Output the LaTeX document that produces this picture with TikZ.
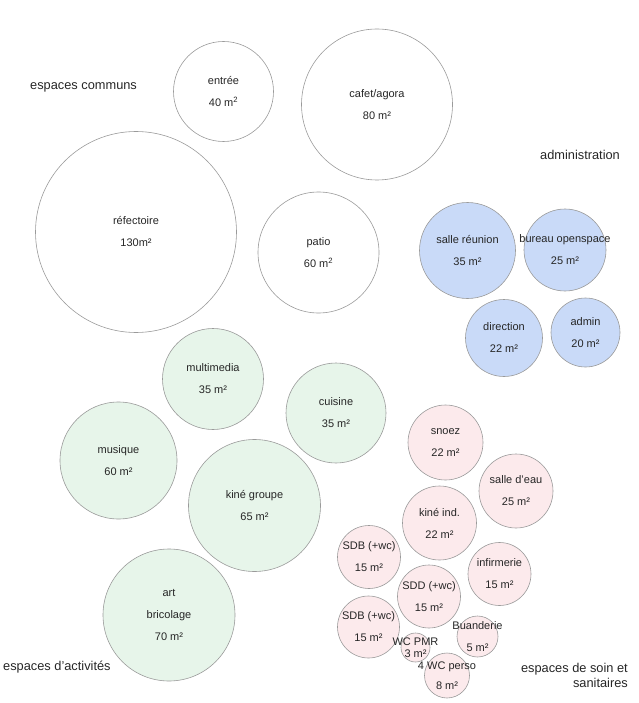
\documentclass[tikz,border=0pt]{standalone}
\usepackage{fontspec}
\setmainfont{Liberation Sans}

\definecolor{bleuadm}{HTML}{C9DAF8}
\definecolor{vertact}{HTML}{E7F5EA}
\definecolor{rosesoin}{HTML}{FCEAEC}
\definecolor{trait}{HTML}{9A9A9A}

\tikzset{
    salle/.style={circle, draw=trait, line width=0.6pt, inner sep=0pt},
    every label/.style={align=center, inner sep=0pt, text=black!85,
        font=\fontsize{11}{22}\selectfont},
    groupe/.style={inner sep=0pt, text=black!85,
        font=\fontsize{12.8}{15.5}\selectfont}
}

\begin{document}
\begin{tikzpicture}[x=1pt, y=-1pt]
    \useasboundingbox (0,0) rectangle (638,703);

    % Espaces communs
    \node[groupe, anchor=west] (communs) at (30,87) {espaces communs};
    \node[salle, minimum size=100pt, label={center:entrée\\40 m\textsuperscript{2}}] (entree) at (223.5,91.5) {};
    \node[salle, minimum size=151pt, label={center:cafet/agora\\80 m²}] (cafet) at (377,104.5) {};
    \node[salle, minimum size=201pt, label={center:réfectoire\\130m²}] (refectoire) at (136,232) {};
    \node[salle, minimum size=121pt, label={center:patio\\60 m\textsuperscript{2}}] (patio) at (318.5,252.5) {};

    % Administration
    \node[groupe] (administration) at (580,155) {administration};
    \node[salle, fill=bleuadm, minimum size=96pt, label={center:salle réunion\\35 m²}] (reunion) at (467.5,250.5) {};
    \node[salle, fill=bleuadm, minimum size=82pt, label={center:bureau openspace\\25 m²}] (openspace) at (565,250) {};
    \node[salle, fill=bleuadm, minimum size=77pt, label={center:direction\\22 m²}] (direction) at (504,338) {};
    \node[salle, fill=bleuadm, minimum size=69pt, label={center:admin\\20 m²}] (admin) at (585.5,332.5) {};

    % Espaces d'activites
    \node[groupe, anchor=west] (activites) at (3,667) {espaces d’activités};
    \node[salle, fill=vertact, minimum size=101pt, label={center:multimedia\\35 m²}] (multimedia) at (213,379) {};
    \node[salle, fill=vertact, minimum size=100pt, label={center:cuisine\\35 m²}] (cuisine) at (336,413) {};
    \node[salle, fill=vertact, minimum size=117pt, label={center:musique\\60 m²}] (musique) at (118.5,460.5) {};
    \node[salle, fill=vertact, minimum size=132pt, label={center:kiné groupe\\65 m²}] (kinegroupe) at (254.5,505.5) {};
    \node[salle, fill=vertact, minimum size=132pt, label={center:art\\bricolage\\70 m²}] (art) at (169,615) {};

    % Espaces de soin et sanitaires
    \node[groupe, anchor=east, align=right] (soin) at (628,675.5) {espaces de soin et\\sanitaires};
    \node[salle, fill=rosesoin, minimum size=75pt, label={center:snoez\\22 m²}] (snoez) at (445.5,442.5) {};
    \node[salle, fill=rosesoin, minimum size=74pt, label={center:salle d'eau\\25 m²}] (eau) at (516,491) {};
    \node[salle, fill=rosesoin, minimum size=74pt, label={center:kiné ind.\\22 m²}] (kineind) at (439.5,523) {};
    \node[salle, fill=rosesoin, minimum size=63pt, label={center:SDB (+wc)\\15 m²}] (sdbhaut) at (369,557) {};
    \node[salle, fill=rosesoin, minimum size=63pt, label={center:infirmerie\\15 m²}] (infirmerie) at (499.5,574) {};
    \node[salle, fill=rosesoin, minimum size=63pt, label={center:SDD (+wc)\\15 m²}] (sdd) at (429,596.5) {};
    \node[salle, fill=rosesoin, minimum size=62pt, label={center:SDB (+wc)\\15 m²}] (sdbbas) at (368.5,627) {};
    \node[salle, fill=rosesoin, minimum size=41pt, label={center:Buanderie\\5 m²}] (buanderie) at (477.5,636.5) {};
    \node[salle, fill=rosesoin, minimum size=29pt, label={[font=\fontsize{11}{12}\selectfont]center:WC PMR\\3 m²}] (wcpmr) at (415.5,647.5) {};
    \node[salle, fill=rosesoin, minimum size=45pt, label={[font=\fontsize{11}{20}\selectfont]center:4 WC perso\\8 m²}] (wcperso) at (447,675.5) {};
\end{tikzpicture}
\end{document}
